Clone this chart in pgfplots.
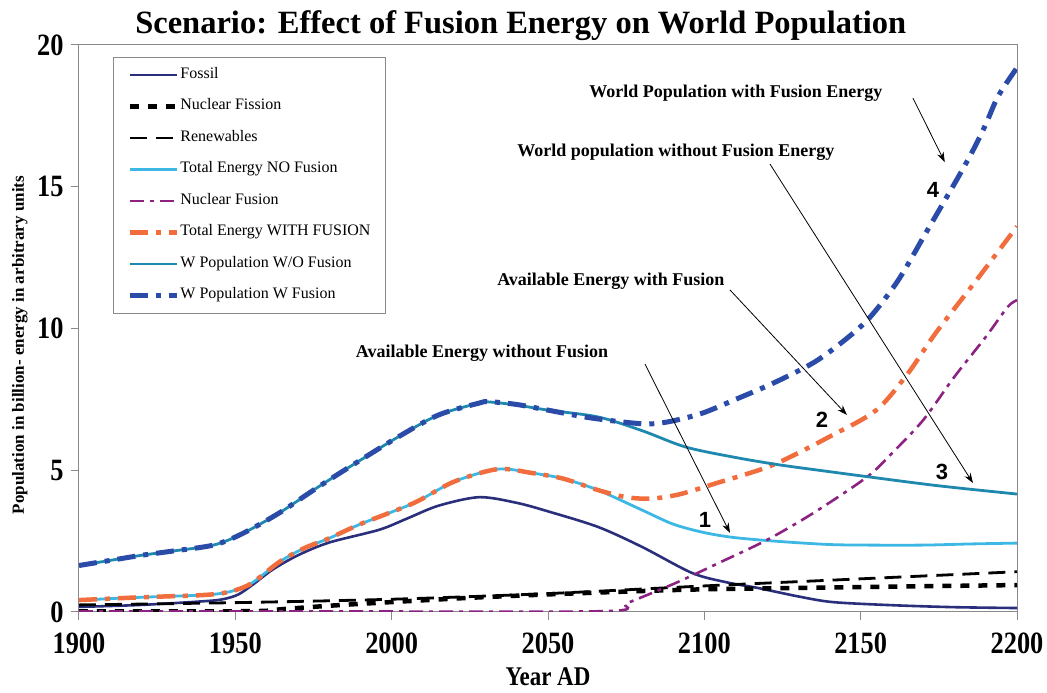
\documentclass[border=0pt]{standalone}
\usepackage{fontspec}
\setmainfont{Liberation Serif}
\newfontfamily\condb[FakeStretch=0.85]{Liberation Serif}
\newfontfamily\sansb{Liberation Sans}
\usepackage{pgfplots}
\pgfplotsset{compat=1.18}
\usetikzlibrary{arrows.meta}
\definecolor{fossil}{HTML}{2A2F7C}
\definecolor{totno}{HTML}{3DB7E4}
\definecolor{fusion}{HTML}{8C2282}
\definecolor{totw}{HTML}{F26D3D}
\definecolor{popwo}{HTML}{1F88AE}
\definecolor{popw}{HTML}{2B4BA9}
\definecolor{axgray}{HTML}{8A8A8A}
\begin{document}
\begin{tikzpicture}
\begin{axis}[
  at={(0pt,0pt)}, anchor=south west,
  scale only axis, width=938pt, height=567pt,
  xmin=1900, xmax=2200, ymin=0, ymax=20,
  xtick={1900,1950,...,2200}, ytick={0,5,10,15,20},
  tick align=outside, xtick pos=bottom, ytick pos=left,
  major tick length=8pt,
  axis line style={axgray, line width=1pt},
  every tick/.style={axgray, line width=1pt},
  /pgf/number format/assume math mode=true,
  /pgf/number format/1000 sep={},
  ticklabel style={font=\condb\bfseries\fontsize{31}{31}\selectfont},
  xticklabel style={yshift=-13pt, inner ysep=0pt},
  yticklabel style={xshift=-4pt},
  title={Scenario: Effect of Fusion Energy on World Population},
  title style={font=\bfseries\fontsize{32.5}{33}\selectfont, at={(axis description cs:0.471,1.024)}, anchor=center},
  xlabel={Year AD},
  xlabel style={font=\condb\bfseries\fontsize{27}{27}\selectfont, inner sep=0pt, at={(axis description cs:0.5,-0.115)}, anchor=center},
  ylabel={Population in billion- energy in arbitrary units},
  ylabel style={font=\bfseries\fontsize{17}{17}\selectfont, at={(axis description cs:-0.0631,0.4709)}, anchor=center},
  legend cell align=left,
  legend image code/.code={\draw[#1] (0pt,0pt) -- (47pt,0pt);},
  legend style={at={(axis description cs:0.03625,0.9788)}, anchor=north west,
    draw=axgray, line width=0.8pt, font=\fontsize{16}{18}\selectfont,
    inner xsep=14pt, inner ysep=10pt, row sep=16.5pt,
    nodes={inner xsep=1pt, inner ysep=0pt, text height=11pt, text depth=4pt}},
]
% Fossil
\addplot[fossil, line width=2.6pt, smooth] coordinates {
(1900,0.18) (1920,0.25) (1940,0.38) (1946,0.45) (1951,0.62) (1956,1.0) (1962,1.5) (1970,2.0) (1980,2.45) (1996,2.9) (2005,3.3) (2015,3.75) (2028,4.05) (2040,3.85) (2050,3.55) (2066,3.0) (2080,2.3) (2096,1.38) (2107,1.05) (2117,0.85) (2130,0.55) (2141,0.35) (2160,0.24) (2180,0.17) (2200,0.14)};
\addlegendentry{Fossil}
% Nuclear fission
\addplot[black, line width=4.5pt, dash pattern=on 9pt off 9pt, smooth] coordinates {
(1900,0.02) (1955,0.03) (1965,0.1) (1980,0.22) (2000,0.35) (2025,0.5) (2050,0.62) (2075,0.72) (2100,0.8) (2150,0.88) (2200,0.95)};
\addlegendentry{Nuclear Fission}
% Renewables
\addplot[black, line width=2.8pt, dash pattern=on 17pt off 9pt, smooth] coordinates {
(1900,0.25) (1950,0.33) (2000,0.45) (2050,0.65) (2100,0.92) (2150,1.17) (2200,1.42)};
\addlegendentry{Renewables}
% Total energy no fusion
\addplot[totno, line width=2.8pt, smooth] coordinates {
(1900,0.42) (1920,0.52) (1940,0.6) (1948,0.71) (1955,1.0) (1964,1.76) (1972,2.25) (1980,2.6) (1990,3.1) (2007,3.84) (2020,4.6) (2034,5.04) (2045,4.9) (2055,4.7) (2066,4.3) (2080,3.6) (2090,3.1) (2100,2.8) (2110,2.62) (2125,2.48) (2140,2.38) (2152,2.36) (2170,2.36) (2185,2.4) (2200,2.43)};
\addlegendentry{Total Energy NO Fusion}
% Nuclear fusion
\addplot[fusion, line width=2.6pt, dash pattern=on 14pt off 6pt on 4pt off 6pt, smooth] coordinates {
(1900,0.02) (1980,0.02) (2068,0.03) (2075,0.3) (2085,0.75) (2093,1.13) (2105,1.75) (2120,2.54) (2135,3.5) (2152,4.76) (2160,5.6) (2170,6.77) (2180,8.3) (2190,9.7) (2197,10.76) (2200,11.0)};
\addlegendentry{Nuclear Fusion}
% Total energy with fusion
\addplot[totw, line width=4.5pt, dash pattern=on 18pt off 8pt on 5pt off 8pt, smooth] coordinates {
(1900,0.42) (1920,0.52) (1940,0.6) (1948,0.71) (1955,1.0) (1964,1.76) (1972,2.25) (1980,2.6) (1990,3.1) (2007,3.84) (2020,4.6) (2034,5.04) (2045,4.9) (2055,4.7) (2066,4.3) (2075,4.05) (2083,4.0) (2092,4.15) (2104,4.55) (2122,5.19) (2141,6.24) (2155,7.12) (2165,8.4) (2174,9.84) (2187,11.7) (2200,13.6)};
\addlegendentry{Total Energy WITH FUSION}
% World population without fusion
\addplot[popwo, line width=2.8pt, smooth] coordinates {
(1900,1.64) (1910,1.82) (1920,2.0) (1930,2.15) (1943,2.36) (1952,2.75) (1964,3.49) (1975,4.3) (1986,5.08) (2002,6.17) (2015,6.95) (2028,7.37) (2031,7.41) (2040,7.3) (2050,7.12) (2066,6.88) (2080,6.4) (2094,5.82) (2110,5.45) (2124,5.19) (2140,4.95) (2153,4.76) (2175,4.45) (2200,4.16)};
\addlegendentry{W Population W/O Fusion}
% World population with fusion
\addplot[popw, line width=5pt, dash pattern=on 18pt off 8pt on 5pt off 8pt, smooth] coordinates {
(1900,1.64) (1910,1.82) (1920,2.0) (1930,2.15) (1943,2.36) (1952,2.75) (1964,3.49) (1975,4.3) (1986,5.08) (2002,6.17) (2015,6.95) (2028,7.37) (2031,7.42) (2040,7.32) (2050,7.12) (2064,6.84) (2080,6.64) (2088,6.7) (2099,7.0) (2110,7.5) (2122,8.07) (2135,8.8) (2145,9.6) (2153,10.4) (2162,11.7) (2171,13.4) (2181,15.3) (2186,16.3) (2190,17.2) (2194,18.2) (2200,19.2)};
\addlegendentry{W Population W Fusion}
% annotations
\node[font=\bfseries\fontsize{18}{20}\selectfont] at (axis cs:2110.1,18.31) {World Population with Fusion Energy};
\node[font=\bfseries\fontsize{18}{20}\selectfont] at (axis cs:2090.9,16.22) {World population without Fusion Energy};
\node[font=\bfseries\fontsize{18}{20}\selectfont] at (axis cs:2070.1,11.67) {Available Energy with Fusion};
\node[font=\bfseries\fontsize{18}{20}\selectfont] at (axis cs:2028.9,9.14) {Available Energy without Fusion};
\draw[-{Stealth[length=10pt,width=7pt]}, line width=0.8pt] (axis cs:2166.7,18.13) -- (axis cs:2176.9,15.87);
\draw[-{Stealth[length=10pt,width=7pt]}, line width=0.8pt] (axis cs:2121.0,15.80) -- (axis cs:2185.9,4.55);
\draw[-{Stealth[length=10pt,width=7pt]}, line width=0.8pt] (axis cs:2108.2,11.36) -- (axis cs:2145.6,6.95);
\draw[-{Stealth[length=10pt,width=7pt]}, line width=0.8pt] (axis cs:2081.0,8.75) -- (axis cs:2108.2,2.79);
\node[font=\sansb\bfseries\fontsize{22}{22}\selectfont] at (axis cs:2100.2,3.24) {1};
\node[font=\sansb\bfseries\fontsize{22}{22}\selectfont] at (axis cs:2137.6,6.77) {2};
\node[font=\sansb\bfseries\fontsize{22}{22}\selectfont] at (axis cs:2176.0,4.94) {3};
\node[font=\sansb\bfseries\fontsize{22}{22}\selectfont] at (axis cs:2173.1,14.9) {4};
\end{axis}
\pgfresetboundingbox
\path[use as bounding box] (-79pt,-81pt) rectangle (968pt,612pt);
\end{tikzpicture}
\end{document}
